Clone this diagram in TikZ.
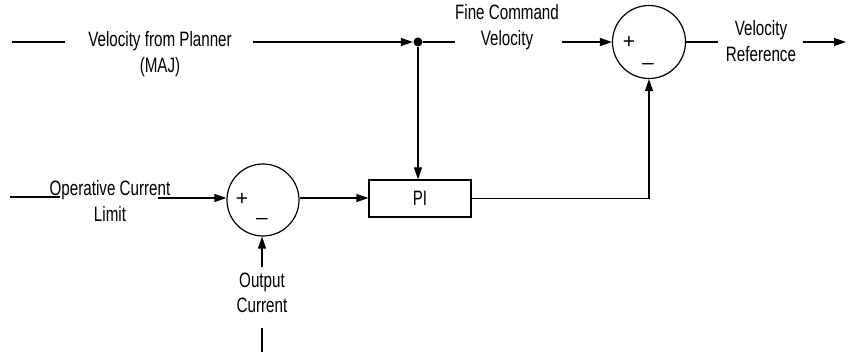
\documentclass[tikz,border=0pt]{standalone}
\usepackage{fontspec}
\setmainfont[FakeStretch=0.73]{Liberation Sans}
\newfontfamily\sgnfont{Liberation Sans}
\usetikzlibrary{arrows.meta}
\begin{document}
\begin{tikzpicture}[x=1pt,y=-1pt,
  line width=1.2pt,
  every node/.style={font=\fontsize{20.8}{25.5}\selectfont},
  arr/.style={-{Triangle[length=12pt,width=8pt]}},
  sgn/.style={font=\sgnfont\fontsize{21}{24}\selectfont,inner sep=0pt},
  sumc/.style={draw,circle,minimum size=73pt,inner sep=0pt},
  lbl/.style={align=center,inner sep=0pt}]
\useasboundingbox (0,0) rectangle (851,352);
% top line
\coordinate (s1) at (12,42);
\coordinate (s1e) at (65,42);
\node[lbl] (vp) at (160,54) {Velocity from Planner\\(MAJ)};
\coordinate (a1) at (253,42);
\node[circle,fill,inner sep=0pt,minimum size=9pt] (dot) at (418,42) {};
\node[lbl] (fcv) at (507,27) {Fine Command\\Velocity};
\coordinate (d1e) at (455,42);
\coordinate (a2) at (562,42);
\node[sumc] (sum2) at (649,42) {};
\node[sgn] (p2) at (629,42) {+};
\node[sgn] (m2) at (648,66) {–};
\coordinate (o1) at (718,42);
\node[lbl] (vr) at (761,41) {Velocity\\Reference};
\coordinate (o2) at (803,42);
\coordinate (o3) at (846,42);
% lower
\node[draw,minimum width=102pt,minimum height=37pt,inner sep=0pt] (pi) at (420,198.5) {PI};
\node[sumc,minimum size=72pt] (sum1) at (263,200) {};
\node[sgn] (p1) at (242,199) {+};
\node[sgn] (m1) at (262,221) {–};
\coordinate (l1) at (10,197);
\coordinate (l1e) at (60,197);
\node[lbl] (ocl) at (110,201) {Operative Current\\Limit};
\coordinate (l2) at (158,198);
\coordinate (b1) at (262,267);
\node[lbl] (oc) at (262,293) {Output\\Current};
\coordinate (b2) at (262,328);
\coordinate (b3) at (262,352);
\draw (s1) -- (s1e);
\draw[arr] (a1) -- (dot.west);
\draw (dot) -- (d1e);
\draw[arr] (a2) -- (sum2.west);
\draw (sum2.east) -- (o1);
\draw[arr] (o2) -- (o3);
\draw[arr] (dot) -- (pi.north -| dot);
\draw (l1) -- (l1e);
\draw[arr] (l2) -- (sum1.west |- l2);
\draw[arr] (sum1.east |- l2) -- (pi.west |- l2);
\draw[arr] (b1) -- (sum1.south -| b1);
\draw (b2) -- (b3);
\draw[arr] (pi.east) -| (sum2.south);
\end{tikzpicture}
\end{document}
